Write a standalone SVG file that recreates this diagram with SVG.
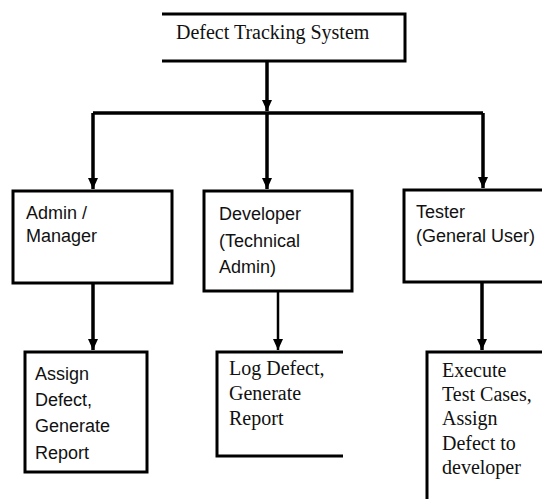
<svg xmlns="http://www.w3.org/2000/svg" width="542" height="499" viewBox="0 0 542 499">
<defs>
<marker id="arr" markerUnits="userSpaceOnUse" markerWidth="12" markerHeight="10" refX="11" refY="5" orient="auto">
<path d="M0,0 L11,5 L0,10 Z" fill="#000"/>
</marker>
<style>
.box{fill:#fff;stroke:#000;stroke-width:3}
.open{fill:none;stroke:#000;stroke-width:3}
.con{fill:none;stroke:#000;stroke-width:3.5}
.thin{stroke-width:2.5}
.sans{font-family:"Liberation Sans",Arial,sans-serif;font-size:18px;fill:#111}
.serif{font-family:"Liberation Serif","Times New Roman",serif;font-size:20px;fill:#111}
</style>
</defs>
<rect width="542" height="499" fill="#fff"/>
<g id="connectors">
<path class="con" d="M267,61 V111" marker-end="url(#arr)"/>
<path class="con" d="M93,113 H483"/>
<path class="con" d="M93,113 V189" marker-end="url(#arr)"/>
<path class="con" d="M267,113 V189" marker-end="url(#arr)"/>
<path class="con" d="M483,113 V188" marker-end="url(#arr)"/>
<path class="con" d="M93,283 V350" marker-end="url(#arr)"/>
<path class="con thin" d="M278,291 V350" marker-end="url(#arr)"/>
<path class="con" d="M482,282 V350" marker-end="url(#arr)"/>
</g>
<g id="root">
<path class="open" d="M162,14 H405 V61 H162"/>
<text class="serif" x="176" y="39">Defect Tracking System</text>
</g>
<g id="admin">
<rect class="box" x="13" y="191" width="159" height="92"/>
<text class="sans" x="26" y="219">Admin /</text>
<text class="sans" x="26" y="242">Manager</text>
</g>
<g id="developer">
<rect class="box" x="204" y="191" width="148" height="100"/>
<text class="sans" x="219" y="220">Developer</text>
<text class="sans" x="219" y="247">(Technical</text>
<text class="sans" x="219" y="273">Admin)</text>
</g>
<g id="tester">
<path class="open" d="M545,190 H404 V282 H545"/>
<text class="sans" x="416" y="218">Tester</text>
<text class="sans" x="416" y="242">(General User)</text>
</g>
<g id="admin-tasks">
<rect class="box" x="25" y="352" width="122" height="120"/>
<text class="sans" x="35" y="380">Assign</text>
<text class="sans" x="35" y="406">Defect,</text>
<text class="sans" x="35" y="432">Generate</text>
<text class="sans" x="35" y="459">Report</text>
</g>
<g id="developer-tasks">
<path class="open" d="M343,352 H217 V456 H343"/>
<text class="serif" x="229" y="375">Log Defect,</text>
<text class="serif" x="229" y="400">Generate</text>
<text class="serif" x="229" y="425">Report</text>
</g>
<g id="tester-tasks">
<path class="open" d="M545,352 H427 V502"/>
<text class="serif" x="442" y="377">Execute</text>
<text class="serif" x="442" y="401">Test Cases,</text>
<text class="serif" x="442" y="425">Assign</text>
<text class="serif" x="442" y="450">Defect to</text>
<text class="serif" x="442" y="474">developer</text>
</g>
</svg>
